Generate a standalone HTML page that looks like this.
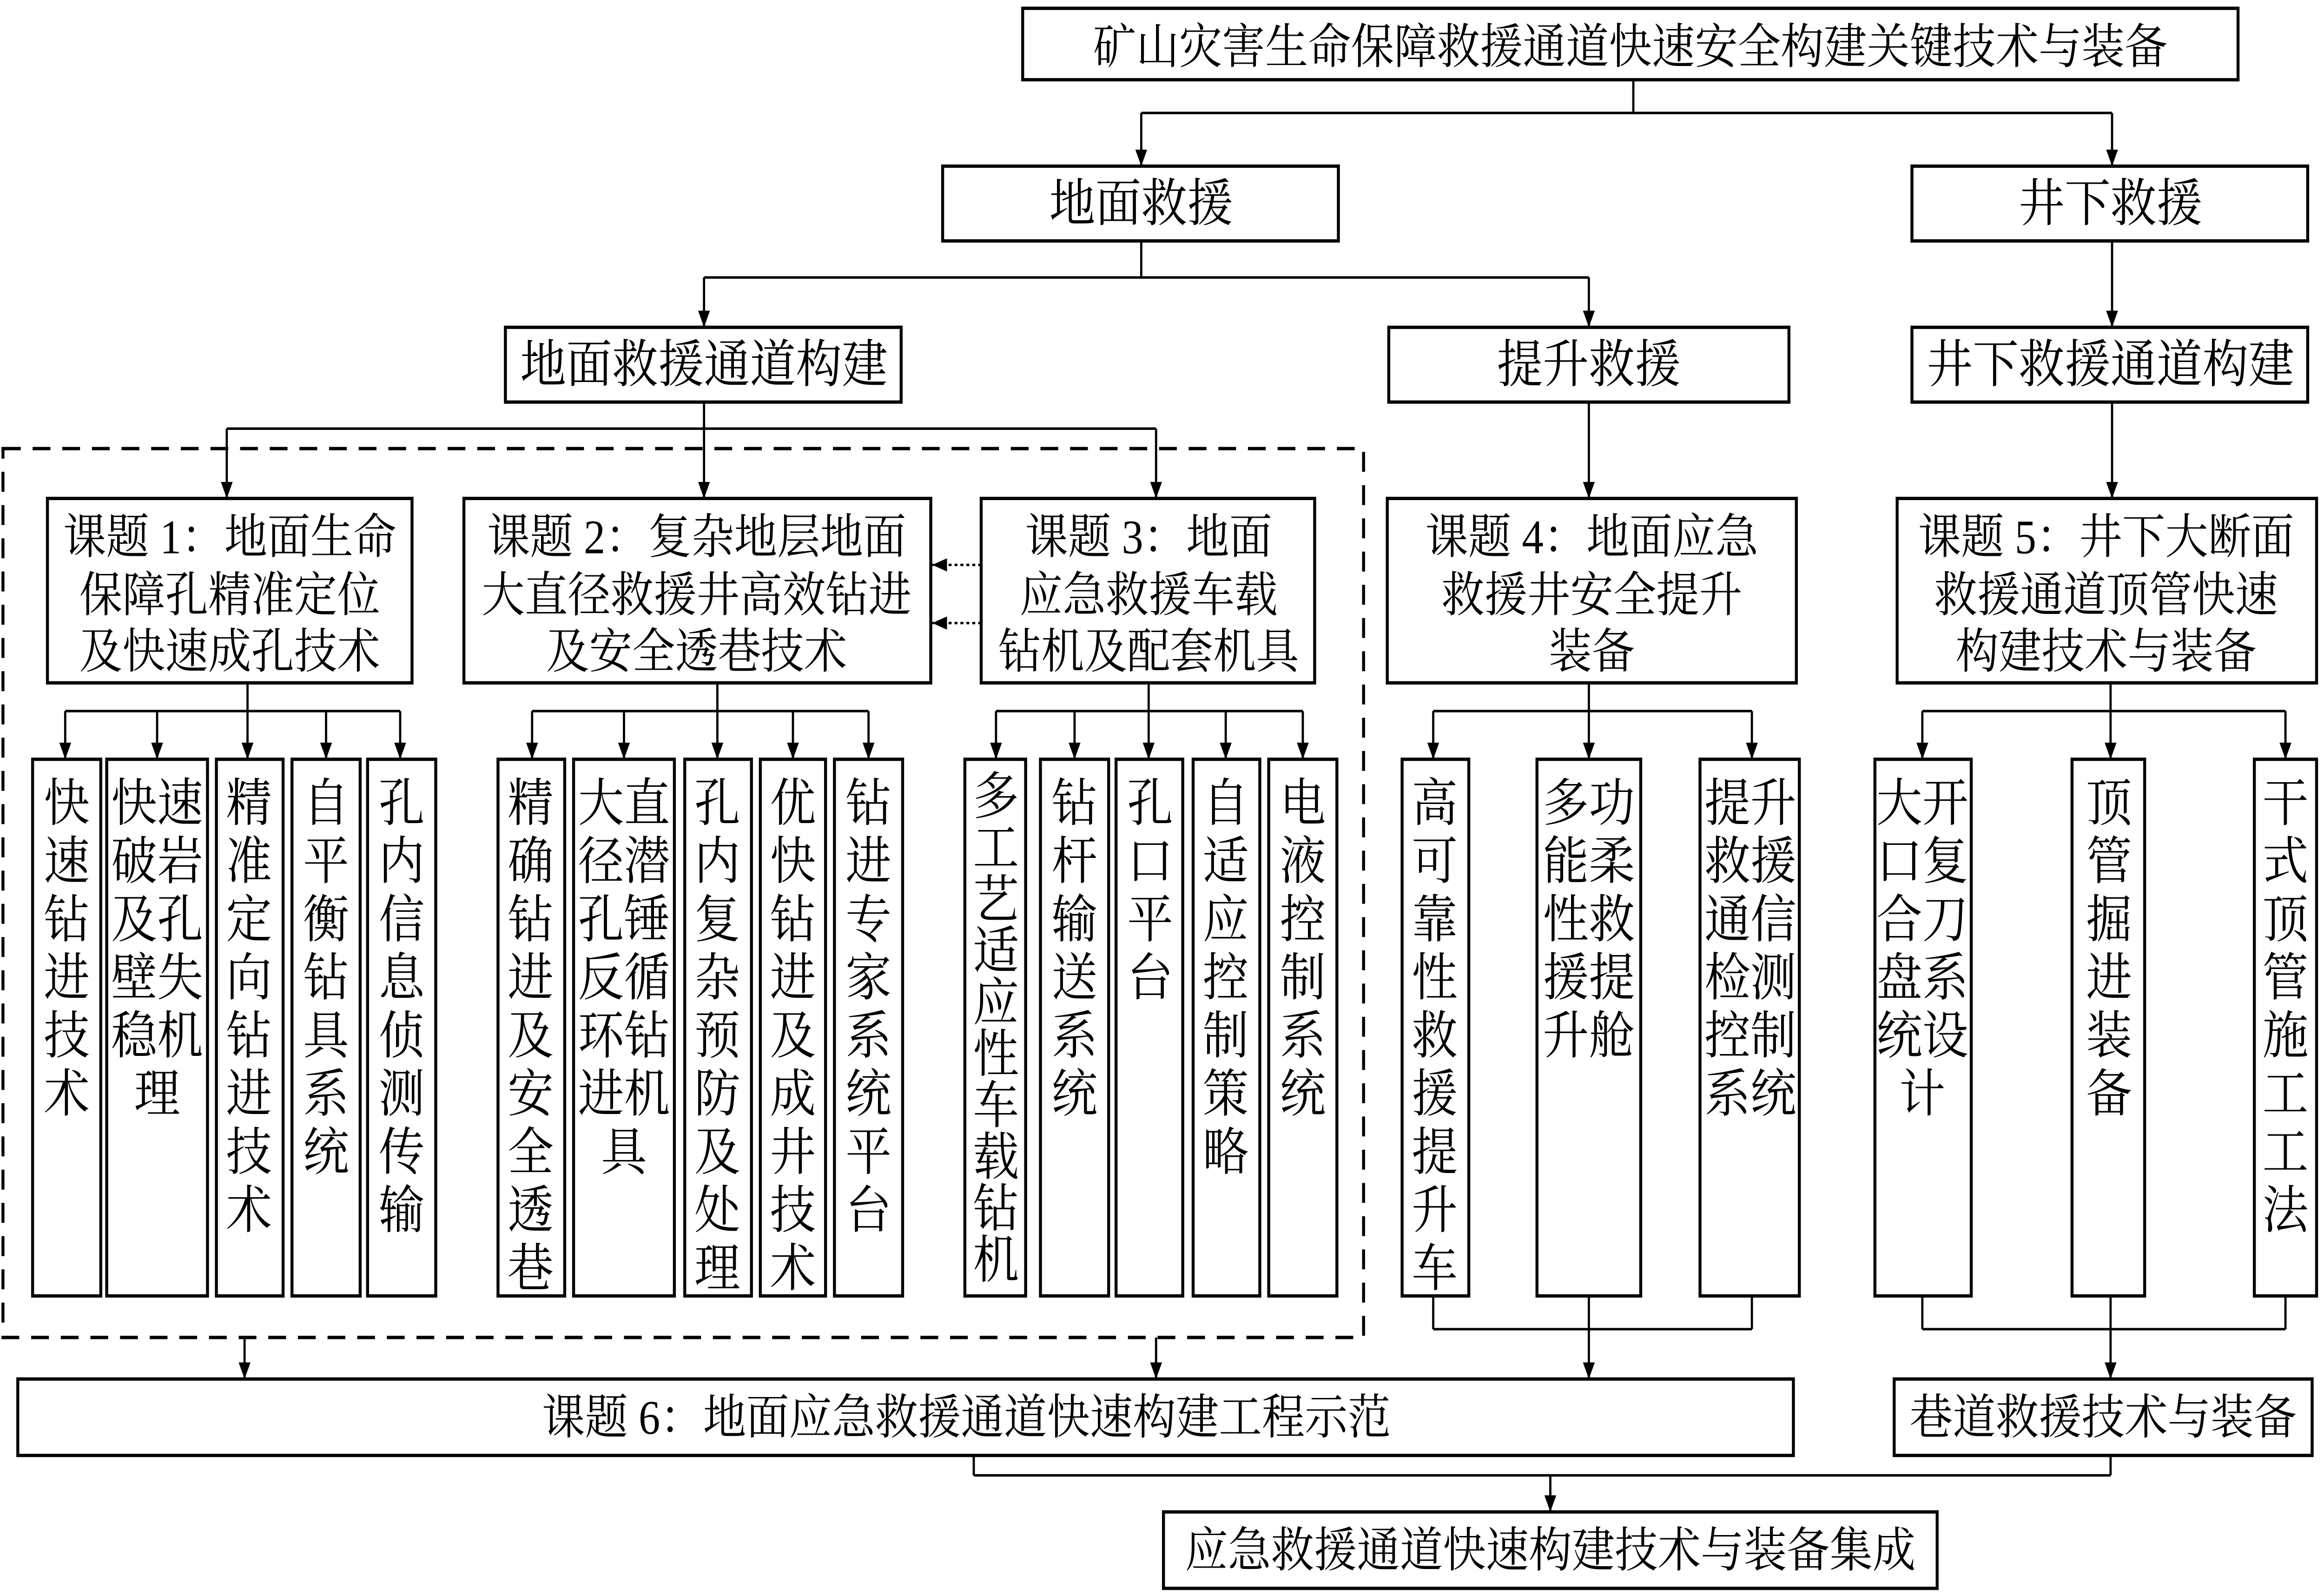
<!DOCTYPE html>
<html><head><meta charset="utf-8">
<style>
html,body{margin:0;padding:0;background:#fff;width:100%;height:100%;overflow:hidden;}
svg{display:block;width:100vw;height:100vh;}
text{font-family:"Liberation Serif","Noto Serif CJK SC",serif;fill:#000;}
</style></head>
<body>
<svg viewBox="0 0 1568 960" preserveAspectRatio="none" xmlns="http://www.w3.org/2000/svg">
<defs>
<marker id="a" markerWidth="10" markerHeight="8" refX="10" refY="4" orient="auto" markerUnits="userSpaceOnUse">
<path d="M0,0 L10,4 L0,8 Z" fill="#000"/>
</marker>
</defs>
<rect width="1568" height="960" fill="#fff"/>
<g fill="none" stroke="#000" stroke-width="2">
<rect x="690" y="5" width="820" height="43"/>
<rect x="636" y="100" width="267" height="45"/>
<rect x="1290" y="100" width="267" height="45"/>
<rect x="341" y="197" width="267" height="45"/>
<rect x="937" y="197" width="270" height="45"/>
<rect x="1290" y="197" width="267" height="45"/>
<rect x="32" y="300" width="246" height="111"/>
<rect x="313" y="300" width="315" height="111"/>
<rect x="662" y="300" width="225" height="111"/>
<rect x="936" y="300" width="276" height="111"/>
<rect x="1280" y="300" width="283" height="111"/>
<rect x="22" y="457" width="46" height="323"/>
<rect x="72" y="457" width="68" height="323"/>
<rect x="146" y="457" width="45" height="323"/>
<rect x="197" y="457" width="46" height="323"/>
<rect x="248" y="457" width="46" height="323"/>
<rect x="336" y="457" width="45" height="323"/>
<rect x="387" y="457" width="68" height="323"/>
<rect x="462" y="457" width="45" height="323"/>
<rect x="513" y="457" width="44" height="323"/>
<rect x="563" y="457" width="46" height="323"/>
<rect x="651" y="457" width="41" height="323"/>
<rect x="702" y="457" width="46" height="323"/>
<rect x="753" y="457" width="45" height="323"/>
<rect x="805" y="457" width="45" height="323"/>
<rect x="856" y="457" width="46" height="323"/>
<rect x="946" y="457" width="45" height="323"/>
<rect x="1037" y="457" width="70" height="323"/>
<rect x="1147" y="457" width="67" height="323"/>
<rect x="1265" y="457" width="65" height="323"/>
<rect x="1398" y="457" width="49" height="323"/>
<rect x="1521" y="457" width="42" height="323"/>
<rect x="12" y="830" width="1198" height="46"/>
<rect x="1278" y="830" width="282" height="46"/>
<rect x="785" y="910" width="522" height="46"/>
<rect x="2" y="270" width="918" height="535" stroke-dasharray="12,8"/>
</g>
<g fill="none" stroke="#000" stroke-width="1.5">
<path d="M1102,48 V68 M770,68 H1425"/>
<path d="M770,68 V100" marker-end="url(#a)"/>
<path d="M1425,68 V100" marker-end="url(#a)"/>
<path d="M770,145 V167 M475,167 H1072"/>
<path d="M475,167 V197" marker-end="url(#a)"/>
<path d="M1072,167 V197" marker-end="url(#a)"/>
<path d="M1425,145 V197" marker-end="url(#a)"/>
<path d="M475,242 V258 M153,258 H780"/>
<path d="M153,258 V300" marker-end="url(#a)"/>
<path d="M475,258 V300" marker-end="url(#a)"/>
<path d="M780,258 V300" marker-end="url(#a)"/>
<path d="M1072,242 V300" marker-end="url(#a)"/>
<path d="M1425,242 V300" marker-end="url(#a)"/>
<path d="M662,340 H629" stroke-dasharray="2,2" marker-end="url(#a)"/>
<path d="M662,375 H629" stroke-dasharray="2,2" marker-end="url(#a)"/>
<path d="M167,411 V428 M44,428 H270"/>
<path d="M44,428 V457" marker-end="url(#a)"/>
<path d="M106,428 V457" marker-end="url(#a)"/>
<path d="M167,428 V457" marker-end="url(#a)"/>
<path d="M220,428 V457" marker-end="url(#a)"/>
<path d="M270,428 V457" marker-end="url(#a)"/>
<path d="M484,411 V428 M359,428 H586"/>
<path d="M359,428 V457" marker-end="url(#a)"/>
<path d="M421,428 V457" marker-end="url(#a)"/>
<path d="M484,428 V457" marker-end="url(#a)"/>
<path d="M535,428 V457" marker-end="url(#a)"/>
<path d="M586,428 V457" marker-end="url(#a)"/>
<path d="M775,411 V428 M672,428 H879"/>
<path d="M672,428 V457" marker-end="url(#a)"/>
<path d="M725,428 V457" marker-end="url(#a)"/>
<path d="M775,428 V457" marker-end="url(#a)"/>
<path d="M827,428 V457" marker-end="url(#a)"/>
<path d="M879,428 V457" marker-end="url(#a)"/>
<path d="M1072,411 V428 M967,428 H1182"/>
<path d="M967,428 V457" marker-end="url(#a)"/>
<path d="M1072,428 V457" marker-end="url(#a)"/>
<path d="M1182,428 V457" marker-end="url(#a)"/>
<path d="M1424,411 V428 M1297,428 H1542"/>
<path d="M1297,428 V457" marker-end="url(#a)"/>
<path d="M1424,428 V457" marker-end="url(#a)"/>
<path d="M1542,428 V457" marker-end="url(#a)"/>
<path d="M967,780 V800 M1072,780 V800 M1182,780 V800 M967,800 H1182"/>
<path d="M1072,800 V830" marker-end="url(#a)"/>
<path d="M1297,780 V800 M1424,780 V800 M1542,780 V800 M1297,800 H1542"/>
<path d="M1424,800 V830" marker-end="url(#a)"/>
<path d="M165,805 V830" marker-end="url(#a)"/>
<path d="M780,805 V830" marker-end="url(#a)"/>
<path d="M657,876 V888 M1424,876 V888 M657,888 H1424"/>
<path d="M1046,888 V910" marker-end="url(#a)"/>
</g>
<g text-anchor="middle">
<text x="1100" y="38" font-size="29">矿山灾害生命保障救援通道快速安全构建关键技术与装备</text>
<text x="770" y="133" font-size="31">地面救援</text>
<text x="1424" y="133" font-size="31">井下救援</text>
<text x="475" y="230" font-size="31">地面救援通道构建</text>
<text x="1072" y="230" font-size="31">提升救援</text>
<text x="1424" y="230" font-size="31">井下救援通道构建</text>
<text font-size="29"><tspan x="155" y="333">课题 1：地面生命</tspan><tspan x="155" y="368">保障孔精准定位</tspan><tspan x="155" y="402">及快速成孔技术</tspan></text>
<text font-size="29"><tspan x="470" y="333">课题 2：复杂地层地面</tspan><tspan x="470" y="368">大直径救援井高效钻进</tspan><tspan x="470" y="402">及安全透巷技术</tspan></text>
<text font-size="29"><tspan x="775" y="333">课题 3：地面</tspan><tspan x="775" y="368">应急救援车载</tspan><tspan x="775" y="402">钻机及配套机具</tspan></text>
<text font-size="29"><tspan x="1074" y="333">课题 4：地面应急</tspan><tspan x="1074" y="368">救援井安全提升</tspan><tspan x="1074" y="402">装备</tspan></text>
<text font-size="29"><tspan x="1421" y="333">课题 5：井下大断面</tspan><tspan x="1421" y="368">救援通道顶管快速</tspan><tspan x="1421" y="402">构建技术与装备</tspan></text>
</g>
<g text-anchor="middle" font-size="31">
<text><tspan x="45" y="494">快</tspan><tspan x="45" dy="35">速</tspan><tspan x="45" dy="35">钻</tspan><tspan x="45" dy="35">进</tspan><tspan x="45" dy="35">技</tspan><tspan x="45" dy="35">术</tspan></text>
<text><tspan x="106" y="494">快速</tspan><tspan x="106" dy="35">破岩</tspan><tspan x="106" dy="35">及孔</tspan><tspan x="106" dy="35">壁失</tspan><tspan x="106" dy="35">稳机</tspan><tspan x="106" dy="35">理</tspan></text>
<text><tspan x="168" y="494">精</tspan><tspan x="168" dy="35">准</tspan><tspan x="168" dy="35">定</tspan><tspan x="168" dy="35">向</tspan><tspan x="168" dy="35">钻</tspan><tspan x="168" dy="35">进</tspan><tspan x="168" dy="35">技</tspan><tspan x="168" dy="35">术</tspan></text>
<text><tspan x="220" y="494">自</tspan><tspan x="220" dy="35">平</tspan><tspan x="220" dy="35">衡</tspan><tspan x="220" dy="35">钻</tspan><tspan x="220" dy="35">具</tspan><tspan x="220" dy="35">系</tspan><tspan x="220" dy="35">统</tspan></text>
<text><tspan x="271" y="494">孔</tspan><tspan x="271" dy="35">内</tspan><tspan x="271" dy="35">信</tspan><tspan x="271" dy="35">息</tspan><tspan x="271" dy="35">侦</tspan><tspan x="271" dy="35">测</tspan><tspan x="271" dy="35">传</tspan><tspan x="271" dy="35">输</tspan></text>
<text><tspan x="358" y="494">精</tspan><tspan x="358" dy="35">确</tspan><tspan x="358" dy="35">钻</tspan><tspan x="358" dy="35">进</tspan><tspan x="358" dy="35">及</tspan><tspan x="358" dy="35">安</tspan><tspan x="358" dy="35">全</tspan><tspan x="358" dy="35">透</tspan><tspan x="358" dy="35">巷</tspan></text>
<text><tspan x="421" y="494">大直</tspan><tspan x="421" dy="35">径潜</tspan><tspan x="421" dy="35">孔锤</tspan><tspan x="421" dy="35">反循</tspan><tspan x="421" dy="35">环钻</tspan><tspan x="421" dy="35">进机</tspan><tspan x="421" dy="35">具</tspan></text>
<text><tspan x="484" y="494">孔</tspan><tspan x="484" dy="35">内</tspan><tspan x="484" dy="35">复</tspan><tspan x="484" dy="35">杂</tspan><tspan x="484" dy="35">预</tspan><tspan x="484" dy="35">防</tspan><tspan x="484" dy="35">及</tspan><tspan x="484" dy="35">处</tspan><tspan x="484" dy="35">理</tspan></text>
<text><tspan x="535" y="494">优</tspan><tspan x="535" dy="35">快</tspan><tspan x="535" dy="35">钻</tspan><tspan x="535" dy="35">进</tspan><tspan x="535" dy="35">及</tspan><tspan x="535" dy="35">成</tspan><tspan x="535" dy="35">井</tspan><tspan x="535" dy="35">技</tspan><tspan x="535" dy="35">术</tspan></text>
<text><tspan x="586" y="494">钻</tspan><tspan x="586" dy="35">进</tspan><tspan x="586" dy="35">专</tspan><tspan x="586" dy="35">家</tspan><tspan x="586" dy="35">系</tspan><tspan x="586" dy="35">统</tspan><tspan x="586" dy="35">平</tspan><tspan x="586" dy="35">台</tspan></text>
<text><tspan x="672" y="490">多</tspan><tspan x="672" dy="31">工</tspan><tspan x="672" dy="31">艺</tspan><tspan x="672" dy="31">适</tspan><tspan x="672" dy="31">应</tspan><tspan x="672" dy="31">性</tspan><tspan x="672" dy="31">车</tspan><tspan x="672" dy="31">载</tspan><tspan x="672" dy="31">钻</tspan><tspan x="672" dy="31">机</tspan></text>
<text><tspan x="725" y="494">钻</tspan><tspan x="725" dy="35">杆</tspan><tspan x="725" dy="35">输</tspan><tspan x="725" dy="35">送</tspan><tspan x="725" dy="35">系</tspan><tspan x="725" dy="35">统</tspan></text>
<text><tspan x="776" y="494">孔</tspan><tspan x="776" dy="35">口</tspan><tspan x="776" dy="35">平</tspan><tspan x="776" dy="35">台</tspan></text>
<text><tspan x="827" y="494">自</tspan><tspan x="827" dy="35">适</tspan><tspan x="827" dy="35">应</tspan><tspan x="827" dy="35">控</tspan><tspan x="827" dy="35">制</tspan><tspan x="827" dy="35">策</tspan><tspan x="827" dy="35">略</tspan></text>
<text><tspan x="879" y="494">电</tspan><tspan x="879" dy="35">液</tspan><tspan x="879" dy="35">控</tspan><tspan x="879" dy="35">制</tspan><tspan x="879" dy="35">系</tspan><tspan x="879" dy="35">统</tspan></text>
<text><tspan x="968" y="494">高</tspan><tspan x="968" dy="35">可</tspan><tspan x="968" dy="35">靠</tspan><tspan x="968" dy="35">性</tspan><tspan x="968" dy="35">救</tspan><tspan x="968" dy="35">援</tspan><tspan x="968" dy="35">提</tspan><tspan x="968" dy="35">升</tspan><tspan x="968" dy="35">车</tspan></text>
<text><tspan x="1072" y="494">多功</tspan><tspan x="1072" dy="35">能柔</tspan><tspan x="1072" dy="35">性救</tspan><tspan x="1072" dy="35">援提</tspan><tspan x="1072" dy="35">升舱</tspan></text>
<text><tspan x="1181" y="494">提升</tspan><tspan x="1181" dy="35">救援</tspan><tspan x="1181" dy="35">通信</tspan><tspan x="1181" dy="35">检测</tspan><tspan x="1181" dy="35">控制</tspan><tspan x="1181" dy="35">系统</tspan></text>
<text><tspan x="1297" y="494">大开</tspan><tspan x="1297" dy="35">口复</tspan><tspan x="1297" dy="35">合刀</tspan><tspan x="1297" dy="35">盘系</tspan><tspan x="1297" dy="35">统设</tspan><tspan x="1297" dy="35">计</tspan></text>
<text><tspan x="1423" y="494">顶</tspan><tspan x="1423" dy="35">管</tspan><tspan x="1423" dy="35">掘</tspan><tspan x="1423" dy="35">进</tspan><tspan x="1423" dy="35">装</tspan><tspan x="1423" dy="35">备</tspan></text>
<text><tspan x="1542" y="494">干</tspan><tspan x="1542" dy="35">式</tspan><tspan x="1542" dy="35">顶</tspan><tspan x="1542" dy="35">管</tspan><tspan x="1542" dy="35">施</tspan><tspan x="1542" dy="35">工</tspan><tspan x="1542" dy="35">工</tspan><tspan x="1542" dy="35">法</tspan></text>
</g>
<g text-anchor="middle" font-size="29">
<text x="652" y="863">课题 6：地面应急救援通道快速构建工程示范</text>
<text x="1419" y="863">巷道救援技术与装备</text>
<text x="1046" y="943">应急救援通道快速构建技术与装备集成</text>
</g>
</svg>
</body></html>
